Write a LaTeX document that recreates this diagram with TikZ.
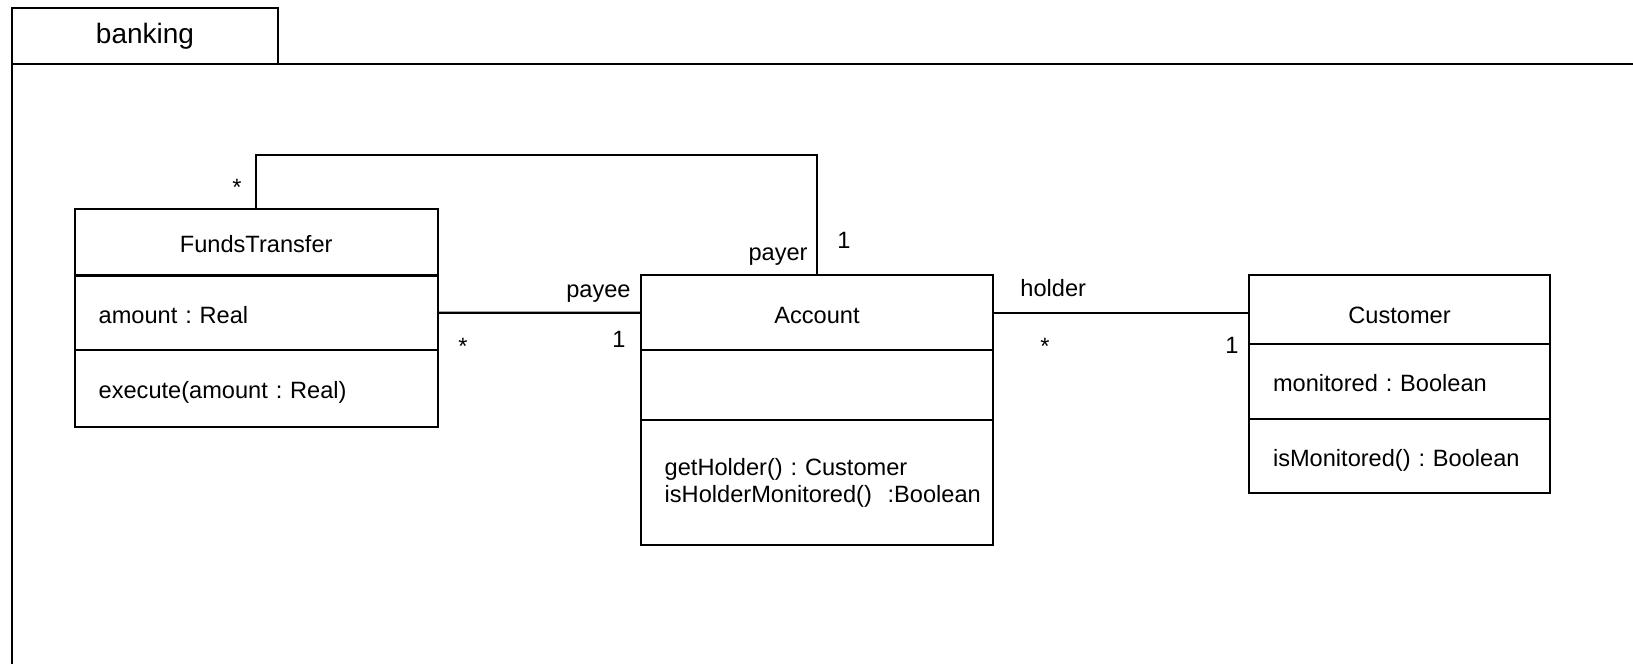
\documentclass[tikz,border=0pt]{standalone}
\usepackage{fontspec}
\setmainfont{Liberation Sans}
\usetikzlibrary{positioning}
\hfuzz=30pt
\tikzset{
  every node/.style={font=\fontsize{11.8}{13.5}\selectfont\frenchspacing,text=black},
  umlline/.style={line width=1.1pt},
  frame/.style={line width=1.4pt},
  pkgtab/.style={draw,frame,outer sep=0pt,inner sep=0pt,minimum width=133pt,minimum height=28pt,
    font=\fontsize{14}{16}\selectfont},
  classhead/.style={draw,umlline,outer sep=0pt,inner sep=0pt,align=center,text height=10.4pt,text depth=0pt},
  classpart/.style={draw,umlline,outer sep=0pt,inner xsep=12pt,inner ysep=0pt,align=left},
  oneline/.style={text height=10.4pt,text depth=0pt},
  role/.style={inner sep=0pt},
  assoc/.style={umlline},
}

\begin{document}
\begin{tikzpicture}[x=0.5pt,y=-0.5pt]
\useasboundingbox (0,0) rectangle (1633,664);

% package frame
\node[pkgtab,anchor=north west] (pkg) at (12,8) {banking};
\coordinate (frameBL) at (12,664);
\coordinate (frameTR) at (1633,64);
\draw[frame] (frameBL) -- (pkg.south west) -- (frameTR);

% FundsTransfer
\node[classhead,anchor=north west,minimum width=181.5pt,minimum height=33.2pt] (ftHead) at (74.7,209) {FundsTransfer};
\node[classpart,oneline,text width=157.5pt,minimum height=37.4pt,below=0pt of ftHead] (ftAttr) {amount : Real};
\node[classpart,oneline,text width=157.5pt,minimum height=38.3pt,below=0pt of ftAttr] (ftOps) {execute(amount : Real)};

% Account
\node[classhead,anchor=north west,minimum width=176.3pt,minimum height=37.4pt] (accHead) at (640.7,275.3) {Account};
\node[classpart,text width=152.3pt,minimum height=35pt,below=0pt of accHead] (accAttr) {};
\node[classpart,text width=152.3pt,minimum height=62.5pt,below=0pt of accAttr] (accOps)
{getHolder() : Customer\\isHolderMonitored()~~:Boolean};

% Customer
\node[classhead,anchor=north west,minimum width=150.5pt,minimum height=34.5pt,text height=13.5pt] (custHead) at (1249,275) {Customer};
\node[classpart,oneline,text width=126.5pt,minimum height=37.5pt,below=0pt of custHead] (custAttr) {monitored : Boolean};
\node[classpart,oneline,text width=126.5pt,minimum height=37pt,below=0pt of custAttr] (custOps) {isMonitored() : Boolean};

% associations
\draw[assoc] (ftHead.north) -- ++(0,-54) -| (accHead.north);
\draw[assoc] (ftAttr.east) -- (accHead.west);
\draw[assoc] (accHead.east) -- (accHead.east -| custHead.west);

% roles and multiplicities
\node[role,anchor=base] (ftPayerMult) at (237,195) {*};
\node[role,anchor=base east] (payerRole) at (808,260) {payer};
\node[role,anchor=base] (accPayerMult) at (844,248) {1};
\node[role,anchor=base] (ftPayeeMult) at (463,354) {*};
\node[role,anchor=base east] (payeeRole) at (631,297) {payee};
\node[role,anchor=base] (accPayeeMult) at (619,347) {1};
\node[role,anchor=base west] (holderRole) at (1020,296) {holder};
\node[role,anchor=base] (accHolderMult) at (1045,354) {*};
\node[role,anchor=base] (custMult) at (1232,353) {1};

\end{tikzpicture}
\end{document}
